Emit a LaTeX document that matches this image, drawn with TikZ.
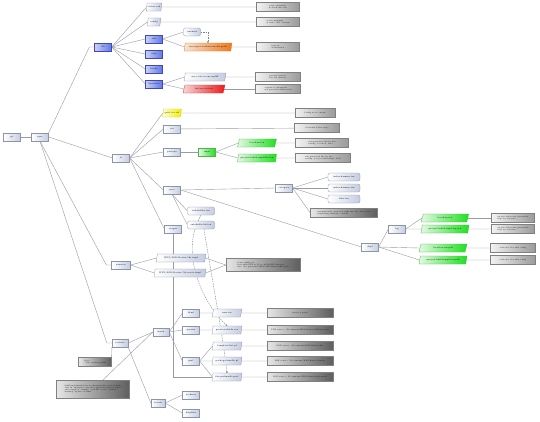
\documentclass[tikz,border=0pt]{standalone}
\usetikzlibrary{shapes.geometric,arrows.meta}
\pgfdeclarelayer{background}
\pgfsetlayers{background,main}
\definecolor{boxc}{HTML}{C4CCE0}
\definecolor{bordc}{HTML}{8C94AC}
\definecolor{linec}{HTML}{9A9AA2}
\definecolor{bluL}{HTML}{C8D2F6}
\definecolor{bluR}{HTML}{5C78E8}
\definecolor{orgL}{HTML}{F6E4D2}
\definecolor{orgR}{HTML}{F0781A}
\definecolor{redL}{HTML}{F6D6D6}
\definecolor{redR}{HTML}{F01818}
\definecolor{grnL}{HTML}{E4F8E4}
\definecolor{grnR}{HTML}{1EE01E}
\definecolor{yelL}{HTML}{FFFFD0}
\definecolor{yelR}{HTML}{F2F000}
\definecolor{notL}{HTML}{F2F2F2}
\definecolor{notR}{HTML}{9A9A9A}
\definecolor{dnoL}{HTML}{E6E6E6}
\definecolor{dnoR}{HTML}{5E5E5E}
\tikzset{
  every node/.style={font=\fontsize{2.1}{2.5}\selectfont, inner sep=0.5pt},
  bx/.style={draw=bordc, line width=0.3pt, left color=white, right color=boxc, minimum width=17pt, minimum height=8pt},
  blu/.style={bx, draw=blue!45!gray, left color=bluL, right color=bluR},
  pr/.style={bx, trapezium, trapezium left angle=72, trapezium right angle=108, trapezium stretches=true},
  rnd/.style={bx, rounded corners=2pt},
  grn/.style={pr, draw=green!45!gray, left color=grnL, right color=grnR},
  org/.style={pr, draw=orange!60!gray, left color=orgL, right color=orgR},
  rd/.style={pr, draw=red!55!gray, left color=redL, right color=redR},
  yel/.style={pr, draw=yellow!55!gray, left color=yelL, right color=yelR},
  grnb/.style={bx, draw=green!45!gray, left color=grnL, right color=grnR},
  note/.style={draw=gray, line width=0.3pt, left color=notL, right color=notR, minimum height=9pt, align=left, font=\fontsize{1.8}{2.2}\selectfont},
  dnote/.style={note, left color=dnoL, right color=dnoR},
  con/.style={draw=linec, line width=0.4pt},
  dsh/.style={draw=gray, line width=0.4pt, dash pattern=on 1.5pt off 1pt, -{Circle[length=1.6pt]}}
}
\newcommand\mmlink[2]{\draw[con] (#1) -- ([xshift=-5pt]#2.west) -- (#2.west);}
\begin{document}
\begin{tikzpicture}[x=1pt,y=-1pt]
\useasboundingbox (0,0) rectangle (540,421);
% root
\node[bx] (root) at (12,137) {git};
\node[bx] (repo) at (40,137) {repo};
% lib branch
\node[blu] (lib) at (103,47) {lib};
\node[pr, minimum width=14pt] (l1) at (154,7) {status.cod};
\node[pr, minimum width=14pt] (l2) at (154,22) {config};
\node[blu] (l3) at (154,39) {refs};
\node[blu] (l4) at (154,54) {objs};
\node[blu] (l5) at (154,69) {hooks};
\node[blu] (l6) at (154,84) {branches};
\node[note, minimum width=43pt] (n1) at (278,7) {create manually\\\& check into svn};
\node[note, minimum width=43pt] (n2) at (278,22) {create manually\\\& write .GIT' syntax};
\node[rnd] (commits) at (192,32) {commits};
\node[org, minimum width=48pt] (orange) at (208,47) {my-repo-to-whatever-dir.path};
\node[note, minimum width=43pt] (n3) at (278,47) {kept by\\workstation};
\node[pr, minimum width=42pt] (gpara) at (205,77) {my-code-to-any.sqdiff};
\node[rd, minimum width=42pt] (red) at (204,89) {history.do-bak};
\node[note, minimum width=45pt] (n4) at (278,77) {generated from\\svn info/history};
\node[note, minimum width=45pt] (n5) at (278,89) {computed, attempted\\and generated history.ext};
% fs branch
\node[bx] (fs) at (121,158) {fs};
\node[yel, minimum width=19pt] (yel) at (172,113) {getit.toc.ctf};
\node[bx] (f2) at (172,129) {ctx};
\node[bx] (f3) at (172,152) {protope};
\node[grnb] (g0) at (207,152) {tmpl};
\node[grn, minimum width=39pt] (g1) at (257,143) {localtex.tex};
\node[grn, minimum width=39pt] (g2) at (257,158) {project-build-tmpl-file.tex};
\node[note, minimum width=40pt] (n6) at (315,113) {Config note content};
\node[note, minimum width=45pt] (n7) at (317,128) {Contents folder stage};
\node[note, minimum width=53pt] (n8) at (322,143) {autogenerated file for the\\setting "localtex" field};
\node[note, minimum width=55pt] (n9) at (323,158) {autogenerated file for the\\setting "project-build-tmpl" field};
\node[bx] (proj) at (172,190) {proj};
\node[bx] (cat) at (284,188) {category};
\node[rnd, minimum width=32pt] (r1) at (344,177) {index.dummy.tex};
\node[rnd, minimum width=32pt] (r2) at (344,188) {index.dummy.tex};
\node[rnd, minimum width=32pt] (r3) at (344,199) {files.tex};
\node[dnote, minimum width=67pt] (n10) at (344,213) {automatically created \& with any ext. not create\\templating structure "subdir"};
\node[bx] (ctxgen) at (173,229) {ctxgen};
\node[rnd, minimum width=27pt] (sub1) at (201,211) {subdirfiles.tex};
\node[rnd, minimum width=27pt] (sub2) at (201,225) {subdirfile-bk.tex};
% depl
\node[bx] (depl) at (370,247) {depl};
\node[bx] (log) at (397,229) {log};
\node[grn, minimum width=48pt] (gr1) at (445,218) {localtex.ctx};
\node[grn, minimum width=48pt] (gr2) at (445,229) {project-build-tmpl-log.ctx};
\node[grn, minimum width=48pt] (gr3) at (443,248) {localtex.tex.pdf};
\node[grn, minimum width=48pt] (gr4) at (443,260) {project-build-tmpl-tex.pdf};
\node[note, minimum width=43pt] (n11) at (513,218) {update after next generation\\kept for reference};
\node[note, minimum width=43pt] (n12) at (513,229) {update after next generation\\kept for reference};
\node[note, minimum width=45pt] (n13) at (513,248) {referenced by this config};
\node[note, minimum width=45pt] (n14) at (513,260) {referenced by this config};
% remotes
\node[bx, minimum width=19pt] (remotes) at (121,265) {remotes};
\node[pr, minimum width=50pt] (rp1) at (181,258) {WPS/ASD-Raster-5hj.tmpl};
\node[pr, minimum width=52pt] (rp2) at (180,273) {WPS/ASD-Raster-5hj.waste.tmpl};
\node[dnote, minimum width=74pt, minimum height=13pt] (n15) at (263,265) {Some stuff goes\\here with GPS \& Co to ASD-STE directory\\also: the generated WPS-ASD-Raster-(file.pdf)};
% tortoise
\node[bx, minimum width=16pt] (tor) at (120,343) {tortoise};
\node[bx, minimum width=16pt] (menu) at (161,332) {menu};
\node[bx] (m1) at (191,313) {html};
\node[bx] (m2) at (191,330) {queries};
\node[bx] (m3) at (191,361) {perl};
\node[pr, minimum width=30pt] (p1) at (227,313) {user.css};
\node[pr, minimum width=30pt] (p2) at (227,330) {preview-fields.ctx};
\node[pr, minimum width=30pt] (p3) at (227,346) {template-list.pl};
\node[pr, minimum width=30pt] (p4) at (227,361) {package-bundle.pl};
\node[pr, minimum width=30pt] (p5) at (227,377) {the-prebundle.perl};
\node[dnote, minimum width=66pt] (q1) at (300,313) {your top pages};
\node[dnote, minimum width=66pt] (q2) at (300,330) {PDF source: /Documents/WPS-Raster/ASD/preview};
\node[dnote, minimum width=66pt] (q3) at (300,346) {PDF source: /Documents/WPS-Raster/list};
\node[dnote, minimum width=66pt] (q4) at (300,361) {PDF source: /Documents/WPS-Raster/bundle};
\node[dnote, minimum width=66pt] (q5) at (300,377) {PDF source: /Documents/WPS-Raster/prebundle};
\node[bx, minimum width=14pt] (search) at (158,403) {search};
\node[bx] (s1) at (191,395) {archives};
\node[bx] (s2) at (191,413) {helpfiles};
\node[dnote, minimum width=33pt] (sn) at (95,362) {Note:\\"Tex" version prefix};
\node[dnote, minimum width=73pt, minimum height=18pt] (bn) at (93,389) {Stuff underneath here is automatically created from\\data in "menu.ini" and the templates in their source\\and compiled, "simply" each file of the "queries"\\working "update or final"};
% connectors
\begin{pgfonlayer}{background}
\fill[white] (0,0) rectangle (540,421);
\draw[con] (root) -- (repo);
\mmlink{repo.north east}{lib}
\draw[con] (repo.east) -- (fs.west);
\mmlink{repo.south}{remotes}
\mmlink{repo.south}{tor}
\foreach \c in {l1,l2,l3,l4,l5,l6} {\draw[con] (lib.east) -- (\c.west);}
\draw[con] (l1) -- (n1); \draw[con] (l2) -- (n2);
\draw[con] (l3.east) -- (commits.west); \draw[con] (l3.east) -- (orange.west);
\draw[con] (orange) -- (n3);
\draw[con] (l6.east) -- (gpara.west); \draw[con] (l6.east) -- (red.west);
\draw[con] (gpara) -- (n4); \draw[con] (red) -- (n5);
\draw[dsh] (commits.east) -| (orange.north);
\foreach \c in {yel,f2,f3,proj,ctxgen} {\draw[con] (fs.east) -- (\c.west);}
\draw[con] (yel) -- (n6); \draw[con] (f2) -- (n7);
\draw[con] (f3) -- (g0);
\draw[con] (g0.east) -- (g1.west); \draw[con] (g0.east) -- (g2.west);
\draw[con] (g1) -- (n8); \draw[con] (g2) -- (n9);
\draw[con] (proj.east) -- (cat.west);
\draw[con] (proj.east) -- (depl.west);
\draw[con] (proj.south) -- (sub1.west);
\draw[con] (proj.south) -- (sub2.west);
\foreach \c in {r1,r2,r3,n10} {\draw[con] (cat.east) -- (\c.west);}
\draw[con] (depl.east) -- (log.west);
\draw[con] (depl.east) -- (gr3.west); \draw[con] (depl.east) -- (gr4.west);
\draw[con] (log.east) -- (gr1.west); \draw[con] (log.east) -- (gr2.west);
\draw[con] (gr1) -- (n11); \draw[con] (gr2) -- (n12);
\draw[con] (gr3) -- (n13); \draw[con] (gr4) -- (n14);
\draw[con] (remotes.east) -- (rp1.west); \draw[con] (remotes.east) -- (rp2.west);
\draw[con] (rp1.east) -- (n15.west); \draw[con] (rp2.east) -- (n15.west);
\draw[con] (tor.east) -- (menu.west);
\draw[con] (tor.south east) -- (search.west);
\draw[con] (sn.north east) -- (tor.south west);
\draw[con] ([xshift=10pt]bn.north) -- (menu.west);
\foreach \c in {m1,m2,m3} {\draw[con] (menu.east) -- (\c.west);}
\draw[con] (m1) -- (p1); \draw[con] (m2) -- (p2);
\foreach \c in {p3,p4,p5} {\draw[con] (m3.east) -- (\c.west);}
\draw[con] (p1) -- (q1); \draw[con] (p2) -- (q2); \draw[con] (p3) -- (q3); \draw[con] (p4) -- (q4); \draw[con] (p5) -- (q5);
\draw[con] (search.east) -- (s1.west); \draw[con] (search.east) -- (s2.west);
\draw[con] (ctxgen.south) |- (p5.west);
\draw[dsh] (sub1.south) .. controls (180,250) and (200,300) .. (p2.north);
\draw[dsh] ([xshift=3pt]sub2.south) .. controls (212,280) and (222,330) .. (p5.north);
\end{pgfonlayer}
\end{tikzpicture}
\end{document}
